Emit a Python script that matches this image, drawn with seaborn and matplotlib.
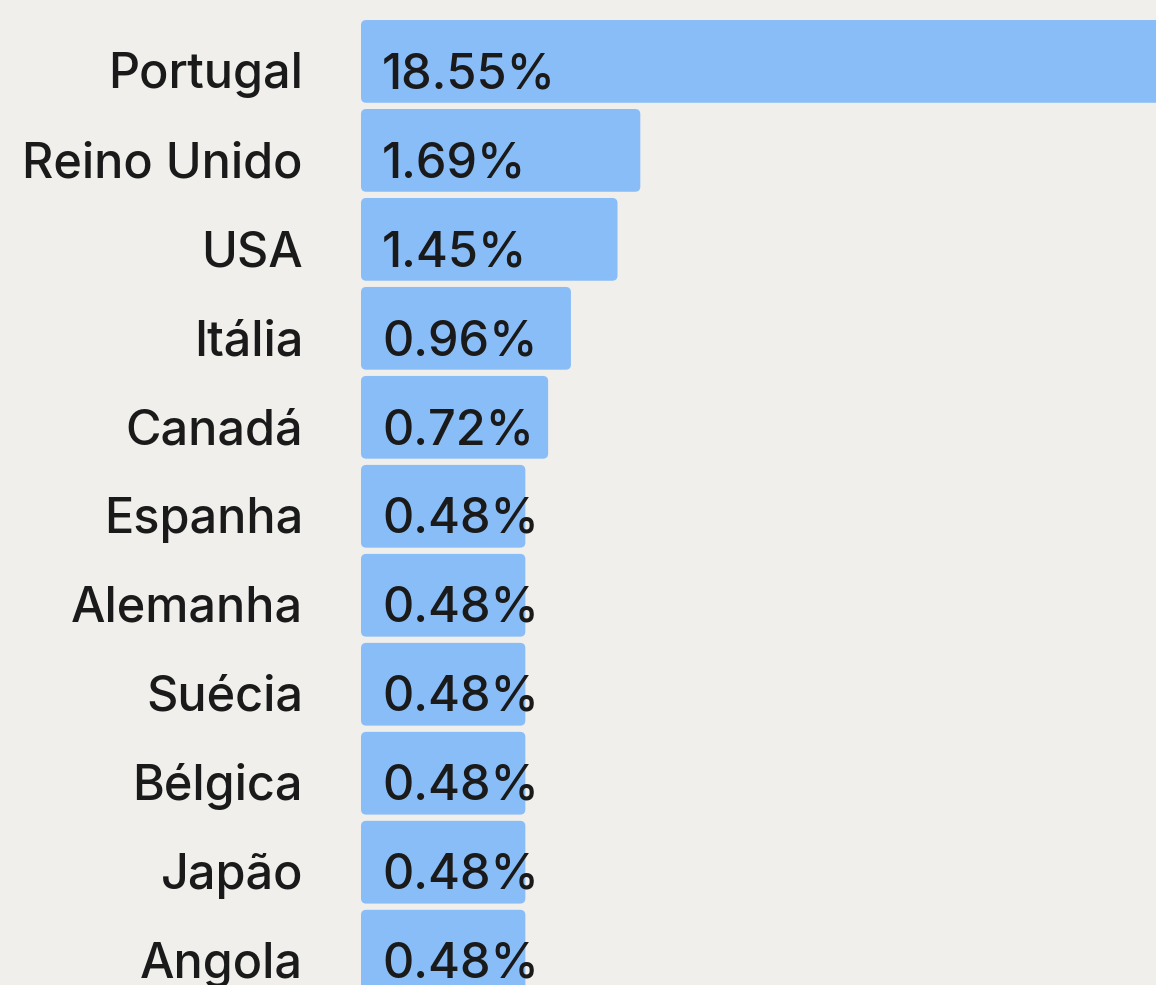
import matplotlib.pyplot as plt
import seaborn as sns
import pandas as pd
from matplotlib.patches import FancyBboxPatch

paises = ['Portugal', 'Reino Unido', 'USA', 'Itália', 'Canadá', 'Espanha',
          'Alemanha', 'Suécia', 'Bélgica', 'Japão', 'Angola']
percentuais = [18.55, 1.69, 1.45, 0.96, 0.72, 0.48, 0.48, 0.48, 0.48, 0.48, 0.48]

# bars in the original are not proportional from zero: they carry a fixed minimum width
base = 1.25

sns.set_theme(style='white')
plt.rcParams['font.family'] = ['Inter', 'DejaVu Sans']

cor_fundo = '#f0efec'
cor_barra = '#89bdf8'
cor_texto = '#1a1a1a'

df = pd.DataFrame({'pais': paises, 'pct': percentuais})
df['largura'] = df['pct'] + base

fig = plt.figure(figsize=(11.56, 9.85), dpi=100)
fig.patch.set_facecolor(cor_fundo)
ax = fig.add_axes([361/1156, 0, 1 - 361/1156, 1])
ax.set_facecolor(cor_fundo)

sns.barplot(data=df, x='largura', y='pais', orient='h', color=cor_barra,
            width=0.93, saturation=1, ax=ax)

# swap plain rectangles for rounded ones
for p in list(ax.patches):
    x, y = p.get_x(), p.get_y()
    w, h = p.get_width(), p.get_height()
    r = FancyBboxPatch((x, y), w, h, boxstyle='round,pad=0,rounding_size=0.055',
                       mutation_aspect=1.07, facecolor=cor_barra, edgecolor='none')
    p.remove()
    ax.add_patch(r)

ax.set_xlim(0, 795/95)
ax.set_ylim(10.38, -0.69)
ax.set_axis_off()

ytrans = ax.get_yaxis_transform()
for i, (pais, pct) in enumerate(zip(paises, percentuais)):
    ax.text(-58/795, i + 0.30, pais, transform=ytrans, ha='right', va='baseline',
            fontsize=35, fontweight='medium', color=cor_texto, clip_on=False)
    ax.text(21/795, i + 0.30, f'{pct:.2f}%', transform=ytrans, ha='left', va='baseline',
            fontsize=35, fontweight='medium', color=cor_texto, clip_on=False)

plt.savefig('out.png', dpi=100, facecolor=cor_fundo)
